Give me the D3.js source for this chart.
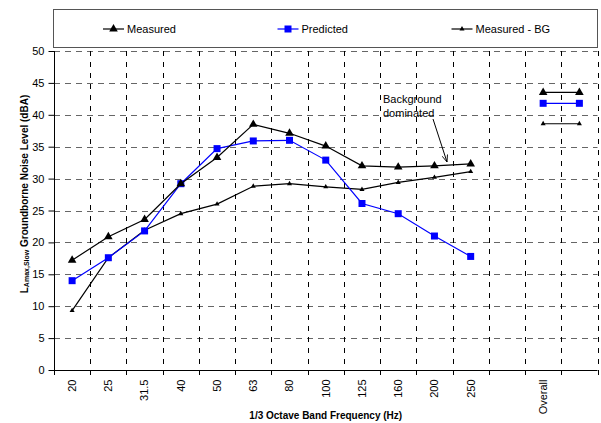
<!DOCTYPE html>
<html>
<head>
<meta charset="utf-8">
<script src="https://cdn.jsdelivr.net/npm/d3@7"></script>
<style>
  html, body { margin: 0; padding: 0; background: #fff; }
  svg { display: block; font-family: "Liberation Sans", Arial, sans-serif; }
</style>
</head>
<body>
<svg id="chart" width="601" height="423"></svg>
<script>
// ---- data ----
const categories = ["20","25","31.5","40","50","63","80","100","125","160","200","250","","Overall",""];
const bandCats = ["20","25","31.5","40","50","63","80","100","125","160","200","250"];
const measured    = [17.2, 20.9, 23.6, 29.2, 33.3, 38.5, 37.1, 35.1, 32.0, 31.8, 32.0, 32.3];
const predicted   = [14.0, 17.6, 21.8, 29.2, 34.7, 35.9, 36.0, 32.9, 26.1, 24.5, 21.0, 17.8];
const measuredBG  = [9.3, 17.6, 21.9, 24.5, 26.0, 28.8, 29.2, 28.7, 28.3, 29.4, 30.2, 31.1];
const overallMeasured  = 43.5;
const overallPredicted = 41.8;
const overallBG        = 38.6;
const overallIdx = [13, 14];
const yTicks = [0,5,10,15,20,25,30,35,40,45,50];
const seriesNames = ["Measured", "Predicted", "Measured - BG"];

// ---- layout ----
const svg = d3.select("#chart");
const L = 54, R = 597.5, T = 51, B = 370;
const x = d3.scaleBand().domain(d3.range(categories.length)).range([L, R]).padding(0);
const y = d3.scaleLinear().domain([0, 50]).range([B, T]);
const cx = i => x(i) + x.bandwidth() / 2;

// gridlines
const grid = svg.append("g");
grid.selectAll("line.h").data(yTicks.filter(v => v > 0)).join("line")
  .attr("x1", L).attr("x2", R)
  .attr("y1", d => Math.round(y(d)) + 0.5).attr("y2", d => Math.round(y(d)) + 0.5)
  .attr("stroke", "#666").attr("stroke-width", 1).attr("stroke-dasharray", "6,5");
grid.selectAll("line.v").data(d3.range(1, categories.length + 1)).join("line")
  .attr("x1", d => Math.round(L + d * x.bandwidth()) + 0.5)
  .attr("x2", d => Math.round(L + d * x.bandwidth()) + 0.5)
  .attr("y1", T).attr("y2", B)
  .attr("stroke", "#000").attr("stroke-width", 1).attr("stroke-dasharray", "5,6");

// axes
const yAxis = d3.axisLeft(y).tickValues(yTicks).tickSize(6).tickPadding(4);
const gy = svg.append("g").attr("transform", `translate(${L + 0.5},0)`).call(yAxis);
gy.select(".domain").attr("d", `M0,${T}V${B}`);
gy.selectAll("text").attr("font-size", 11).attr("fill", "#000").attr("font-family", "Liberation Sans, Arial, sans-serif");

const xAxis = d3.axisBottom(x).tickFormat(i => categories[i]).tickSize(0);
const gx = svg.append("g").attr("transform", `translate(0,${B + 0.5})`).call(xAxis);
gx.select(".domain").attr("d", `M${L},0H${R}`);
gx.selectAll(".tick line").remove();
gx.selectAll("text")
  .attr("font-size", 11).attr("fill", "#000").attr("font-family", "Liberation Sans, Arial, sans-serif")
  .attr("transform", "rotate(-90)")
  .attr("text-anchor", "end")
  .attr("x", -9).attr("y", 0).attr("dy", "0.35em");
// x tick marks at band boundaries
svg.append("g").selectAll("line").data(d3.range(0, categories.length + 1)).join("line")
  .attr("x1", d => Math.round(L + d * x.bandwidth()) + 0.5)
  .attr("x2", d => Math.round(L + d * x.bandwidth()) + 0.5)
  .attr("y1", B).attr("y2", B + 5).attr("stroke", "#000");

// series
const tri = (s) => d3.symbol().type(d3.symbolTriangle).size(s)();
const sq = (s) => d3.symbol().type(d3.symbolSquare).size(s)();
const BIG = 32, SMALL = 11, SQ = 49;

function drawSeries(vals, idxs, color, markerPath, markerColor) {
  const pts = vals.map((v, k) => [cx(idxs[k]), y(v)]);
  svg.append("path").attr("d", d3.line()(pts)).attr("fill", "none")
    .attr("stroke", color).attr("stroke-width", 1.2);
  svg.append("g").selectAll("path").data(pts).join("path")
    .attr("d", markerPath).attr("transform", d => `translate(${d[0]},${d[1]})`)
    .attr("fill", markerColor);
}
const freqIdx = d3.range(bandCats.length);
drawSeries(measuredBG, freqIdx, "#000", tri(SMALL), "#000");
drawSeries(predicted, freqIdx, "#0000ff", sq(SQ), "#0000ff");
drawSeries(measured, freqIdx, "#000", tri(BIG), "#000");
drawSeries([overallBG, overallBG], overallIdx, "#000", tri(SMALL), "#000");
drawSeries([overallPredicted, overallPredicted], overallIdx, "#0000ff", sq(SQ), "#0000ff");
drawSeries([overallMeasured, overallMeasured], overallIdx, "#000", tri(BIG), "#000");

// annotation
const ann = svg.append("g").attr("font-size", 11).attr("fill", "#000");
ann.append("text").attr("x", 383).attr("y", 103).text("Background");
ann.append("text").attr("x", 383).attr("y", 116.5).text("dominated");
svg.append("defs").append("marker").attr("id", "arr").attr("viewBox", "0 0 10 10")
  .attr("refX", 10).attr("refY", 5).attr("markerWidth", 7).attr("markerHeight", 7)
  .attr("orient", "auto")
  .append("path").attr("d", "M0,1 L10,5 L0,9").attr("fill", "none").attr("stroke", "#000").attr("stroke-width", 1.2);
svg.append("line").attr("x1", 433).attr("y1", 119).attr("x2", 447).attr("y2", 162)
  .attr("stroke", "#000").attr("stroke-width", 1).attr("marker-end", "url(#arr)");

// legend
const lg = svg.append("g");
lg.append("rect").attr("x", 53.5).attr("y", 9.5).attr("width", 544).attr("height", 38)
  .attr("fill", "#fff").attr("stroke", "#555").attr("stroke-width", 1);
const legendItems = [
  { name: seriesNames[0], x0: 103, color: "#000", marker: tri(BIG) },
  { name: seriesNames[1], x0: 277.5, color: "#0000ff", marker: sq(SQ) },
  { name: seriesNames[2], x0: 451.5, color: "#000", marker: tri(SMALL) }
];
legendItems.forEach(it => {
  lg.append("line").attr("x1", it.x0).attr("x2", it.x0 + 21).attr("y1", 29).attr("y2", 29)
    .attr("stroke", it.color).attr("stroke-width", 1.2);
  lg.append("path").attr("d", it.marker).attr("transform", `translate(${it.x0 + 10.5},29)`).attr("fill", it.color);
  lg.append("text").attr("x", it.x0 + 24).attr("y", 33).attr("font-size", 11).attr("fill", "#000").text(it.name);
});

// axis titles
svg.append("text").attr("x", (L + R) / 2).attr("y", 419).attr("text-anchor", "middle")
  .attr("font-size", 10).attr("font-weight", "bold").text("1/3 Octave Band Frequency (Hz)");
const yt = svg.append("text").attr("transform", "translate(28,194) rotate(-90)")
  .attr("text-anchor", "middle").attr("font-size", 10).attr("font-weight", "bold");
yt.append("tspan").text("L");
yt.append("tspan").attr("font-size", 7).attr("dy", 1).text("Amax,Slow");
yt.append("tspan").attr("dy", -1).text(" Groundborne Noise Level (dBA)");
</script>
</body>
</html>
